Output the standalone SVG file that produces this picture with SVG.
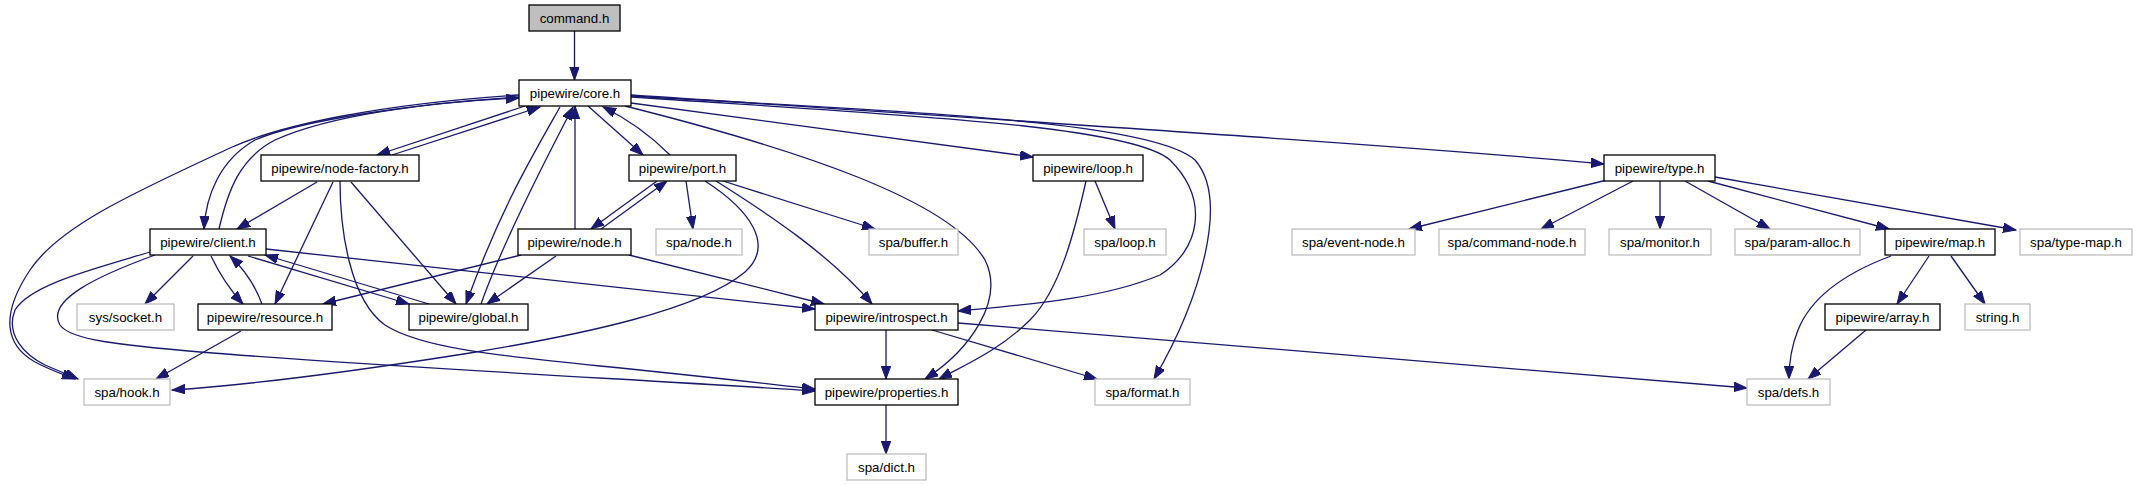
<svg xmlns="http://www.w3.org/2000/svg" width="2138" height="485" viewBox="0 0 2138 485">
<style>
.n rect{fill:#fff;stroke:#000;stroke-width:1.3}
.g rect{fill:#fff;stroke:#bfbfbf;stroke-width:1.3}
.r rect{fill:#bfbfbf;stroke:#000;stroke-width:1.3}
text{font-family:"Liberation Sans",Arial,sans-serif;font-size:13.33px;fill:#000;text-anchor:middle}
#edges path{fill:none;stroke:#191970;stroke-width:1.3;marker-end:url(#ah)}
</style>
<defs>
<marker id="ah" markerUnits="userSpaceOnUse" markerWidth="14" markerHeight="10" refX="13" refY="4.75" orient="auto">
<path d="M0,0 L13,4.75 L0,9.5 z" fill="#191970" stroke="#191970" stroke-width="1"/>
</marker>
</defs>
<rect width="2138" height="485" fill="#fff"/>
<g id="edges">
<path d="M574.5,31 L574.5,80"/>
<path d="M525,106 L377,155"/>
<path d="M392,155 L540,107"/>
<path d="M519,97 C 420,103 300,120 255,140 C 220,160 206,195 204,229"/>
<path d="M219,229 C 228,190 240,158 275,140 C 330,115 430,102 519,98"/>
<path d="M519,95 C 380,104 280,125 230,148 C 140,190 60,225 30,270 C 0,315 5,345 35,362 C 50,370 62,374 75,379"/>
<path d="M150,252 C 90,270 30,285 15,310 C 5,335 25,355 45,365 L 78,379"/>
<path d="M155,255 C 100,275 45,300 60,325 C 70,340 120,345 200,352 C 400,368 650,380 815,391"/>
<path d="M340,181 C 340,230 350,300 385,325 C 420,348 500,356 600,366 C 700,376 760,383 815,389"/>
<path d="M317,182 L237,229"/>
<path d="M333,182 L275,304"/>
<path d="M351,182 L456,304"/>
<path d="M560,107 C 530,160 500,210 466,304"/>
<path d="M481,304 C 500,250 540,170 573,107"/>
<path d="M575,229 L575,106"/>
<path d="M588,106 L643,155"/>
<path d="M670,155 Q 640,125 603,107"/>
<path d="M657,181 L591,229"/>
<path d="M601,229 L667,181"/>
<path d="M686,181 L693,229"/>
<path d="M723,181 L875,229"/>
<path d="M716,181 C 770,215 830,255 872,304"/>
<path d="M705,181 C 750,210 775,245 745,272 C 700,310 580,335 470,353 C 350,372 250,385 172,390"/>
<path d="M521,255 L323,304"/>
<path d="M556,256 L487,304"/>
<path d="M629,255 L824,304"/>
<path d="M266,249 L815,309"/>
<path d="M193,256 L145,304"/>
<path d="M211,256 C 220,275 230,290 243,304"/>
<path d="M262,304 C 255,285 245,270 230,256"/>
<path d="M248,256 L409,304"/>
<path d="M429,304 L265,255"/>
<path d="M241,331 L156,379"/>
<path d="M886,330 L886,379"/>
<path d="M932,330 L1097,379"/>
<path d="M958,323 L1747,388"/>
<path d="M886,405 L886,454"/>
<path d="M1095,181 L1115,229"/>
<path d="M1086,181 C 1075,230 1060,290 1030,320 C 1000,350 965,365 939,379"/>
<path d="M631,103 L1033,157"/>
<path d="M625,106 C 800,150 950,200 985,260 C 1005,300 970,350 925,379"/>
<path d="M631,97 C 900,115 1130,125 1170,160 C 1210,200 1200,250 1160,275 C 1100,300 1020,305 958,311"/>
<path d="M631,96 C 900,112 1150,120 1195,160 C 1230,200 1200,300 1154,379"/>
<path d="M631,95 C 1000,120 1400,145 1604,164"/>
<path d="M1607,180 L1409,229"/>
<path d="M1633,181 L1541,229"/>
<path d="M1660,181 L1660,229"/>
<path d="M1685,181 L1770,229"/>
<path d="M1708,181 L1889,229"/>
<path d="M1715,177 L2016,230"/>
<path d="M1929,256 L1897,304"/>
<path d="M1951,256 L1985,304"/>
<path d="M1891,256 C 1840,275 1810,300 1798,330 C 1790,350 1789,365 1789,379"/>
<path d="M1866,330 L1808,379"/>
</g>
<g id="command" class="r"><rect x="529" y="5" width="91" height="26"/><text x="574.5" y="22.5">command.h</text></g>
<g id="core" class="n"><rect x="519" y="80" width="112" height="26"/><text x="575" y="97.5">pipewire/core.h</text></g>
<g id="node-factory" class="n"><rect x="261" y="155" width="158" height="26"/><text x="340" y="172.5">pipewire/node-factory.h</text></g>
<g id="port" class="n"><rect x="629" y="155" width="107" height="26"/><text x="682.5" y="172.5">pipewire/port.h</text></g>
<g id="loop" class="n"><rect x="1033" y="155" width="110" height="26"/><text x="1088" y="172.5">pipewire/loop.h</text></g>
<g id="type" class="n"><rect x="1604" y="155" width="111" height="26"/><text x="1659.5" y="172.5">pipewire/type.h</text></g>
<g id="client" class="n"><rect x="150" y="229" width="116" height="26"/><text x="208" y="246.5">pipewire/client.h</text></g>
<g id="node" class="n"><rect x="518" y="229" width="113" height="26"/><text x="574.5" y="246.5">pipewire/node.h</text></g>
<g id="spa-node" class="g"><rect x="656" y="229" width="86" height="26"/><text x="699" y="246.5">spa/node.h</text></g>
<g id="spa-buffer" class="g"><rect x="869" y="229" width="89" height="26"/><text x="913.5" y="246.5">spa/buffer.h</text></g>
<g id="spa-loop" class="g"><rect x="1084" y="229" width="82" height="26"/><text x="1125" y="246.5">spa/loop.h</text></g>
<g id="spa-event-node" class="g"><rect x="1292" y="229" width="123" height="26"/><text x="1353.5" y="246.5">spa/event-node.h</text></g>
<g id="spa-command-node" class="g"><rect x="1439" y="229" width="146" height="26"/><text x="1512" y="246.5">spa/command-node.h</text></g>
<g id="spa-monitor" class="g"><rect x="1609" y="229" width="102" height="26"/><text x="1660" y="246.5">spa/monitor.h</text></g>
<g id="spa-param-alloc" class="g"><rect x="1735" y="229" width="125" height="26"/><text x="1797.5" y="246.5">spa/param-alloc.h</text></g>
<g id="map" class="n"><rect x="1885" y="229" width="110" height="26"/><text x="1940" y="246.5">pipewire/map.h</text></g>
<g id="spa-type-map" class="g"><rect x="2020" y="229" width="112" height="26"/><text x="2076" y="246.5">spa/type-map.h</text></g>
<g id="sys-socket" class="g"><rect x="77" y="304" width="97" height="26"/><text x="125.5" y="321.5">sys/socket.h</text></g>
<g id="resource" class="n"><rect x="198" y="304" width="134" height="26"/><text x="265" y="321.5">pipewire/resource.h</text></g>
<g id="global" class="n"><rect x="409" y="304" width="119" height="26"/><text x="468.5" y="321.5">pipewire/global.h</text></g>
<g id="introspect" class="n"><rect x="815" y="304" width="143" height="26"/><text x="886.5" y="321.5">pipewire/introspect.h</text></g>
<g id="array" class="n"><rect x="1825" y="304" width="115" height="26"/><text x="1882.5" y="321.5">pipewire/array.h</text></g>
<g id="string" class="g"><rect x="1965" y="304" width="65" height="26"/><text x="1997.5" y="321.5">string.h</text></g>
<g id="spa-hook" class="g"><rect x="84" y="379" width="86" height="26"/><text x="127" y="396.5">spa/hook.h</text></g>
<g id="properties" class="n"><rect x="815" y="379" width="143" height="26"/><text x="886.5" y="396.5">pipewire/properties.h</text></g>
<g id="spa-format" class="g"><rect x="1095" y="379" width="95" height="26"/><text x="1142.5" y="396.5">spa/format.h</text></g>
<g id="spa-defs" class="g"><rect x="1747" y="379" width="83" height="26"/><text x="1788.5" y="396.5">spa/defs.h</text></g>
<g id="spa-dict" class="g"><rect x="847" y="454" width="79" height="26"/><text x="886.5" y="471.5">spa/dict.h</text></g>
</svg>
